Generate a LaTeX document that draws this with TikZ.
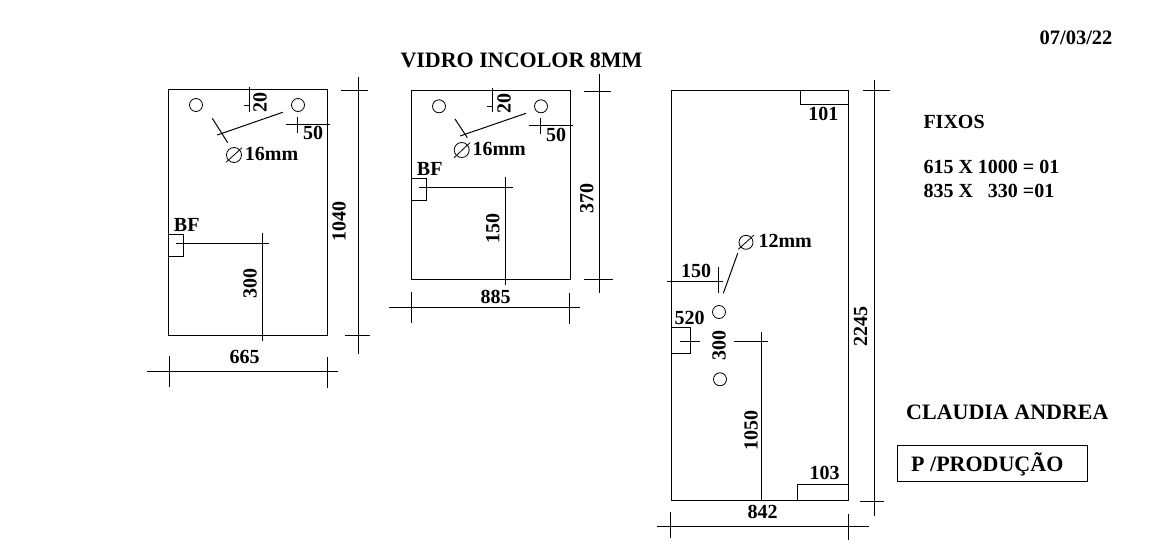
\documentclass[tikz,border=0pt]{standalone}
\usepackage{fontspec}
\setmainfont{Liberation Serif}
\tikzset{
  lbl/.style={inner sep=0pt,font=\fontsize{20}{22}\selectfont\bfseries,text=black},
  big/.style={lbl,font=\fontsize{22}{24}\selectfont\bfseries},
  vert/.style={lbl,rotate=90},
  ln/.style={draw=black,line width=1pt},
  hole/.style={draw=black,line width=0.8pt}
}
\begin{document}
\begin{tikzpicture}[x=1pt,y=-1pt]
\useasboundingbox (0,0) rectangle (1166,543);
\fill[white] (0,0) rectangle (1166,543);

% header
\node[big] (title) at (521.5,60) {VIDRO INCOLOR 8MM};
\node[lbl,font=\fontsize{20.5}{22}\selectfont\bfseries] (date) at (1076,37.7) {07/03/22};

% panel 1
\draw[ln] (168.3,89.3) rectangle (327.3,335.3);
\draw[hole] (196,105) circle (6.5);
\draw[hole] (298,105) circle (6.5);
\draw[ln] (249.3,87.3) -- (249.3,111.7) (244,105) -- (249.3,105);
\node[vert] (a20) at (260,102) {20};
\draw[ln] (217.3,135) -- (282.7,112.3) (212.3,118.3) -- (227.7,142.7);
\draw[ln] (286,124) -- (330,124) (297.3,117) -- (297.3,133.3);
\node[lbl] (a50) at (313,133.3) {50};
\draw[hole] (234,155) circle (7.5);
\draw[hole] (226,162.3) -- (242,147.7);
\node[lbl,anchor=west] (a16) at (244.7,154.3) {16mm};
\node[lbl] (abf) at (186.7,225) {BF};
\draw[ln] (168.3,234.3) rectangle (183.3,256.3);
\draw[ln] (176,243.3) -- (269.3,243.3) (262.3,233) -- (262.3,340.7);
\node[vert] (a300) at (250,283.3) {300};
\node[vert] (a1040) at (339,221.7) {1040};
\draw[ln] (358.7,77.3) -- (358.7,353.7) (341,90.3) -- (368.3,90.3) (345,335.3) -- (370,335.3);
\node[lbl] (a665) at (244.7,356.7) {665};
\draw[ln] (147.3,371.3) -- (337.7,371.3) (169.3,356) -- (169.3,386.7) (327.3,357.3) -- (327.3,387.7);

% panel 2
\draw[ln] (411.3,90.7) rectangle (570.7,279);
\draw[hole] (439,106.3) circle (6.5);
\draw[hole] (541,106.3) circle (6.5);
\draw[ln] (492.7,88.3) -- (492.7,112.3) (487.3,106.3) -- (492.7,106.3);
\node[vert] (b20) at (504,103.7) {20};
\draw[ln] (460,136) -- (526,113.3) (455,119) -- (467.3,137.7);
\draw[ln] (529,125.3) -- (573,125.3) (540.7,118) -- (540.7,134.3);
\node[lbl] (b50) at (556,135) {50};
\draw[hole] (461.7,150) circle (7.5);
\draw[hole] (454,157.7) -- (470,142.7);
\node[lbl,anchor=west] (b16) at (472.3,149) {16mm};
\node[lbl] (bbf) at (429.7,169.3) {BF};
\draw[ln] (411.3,178.3) rectangle (426.7,200.3);
\draw[ln] (419,187) -- (513,187) (505.3,177) -- (505.3,285);
\node[vert] (b150) at (492.7,228.3) {150};
\node[vert] (b370) at (586.7,198.3) {370};
\draw[ln] (599.3,74) -- (599.3,292.7) (584,91.3) -- (611,91.3) (584,279.7) -- (612.7,279.7);
\node[lbl] (b885) at (495.7,296.7) {885};
\draw[ln] (389,307) -- (580,307) (411.3,292) -- (411.3,322.7) (569.3,293.3) -- (569.3,323.7);

% panel 3
\draw[ln] (671.3,90.3) rectangle (848.3,500.3);
\draw[ln] (800.3,90.3) |- (848.3,104.3);
\node[lbl] (c101) at (823.3,113.7) {101};
\draw[ln] (874.3,80) -- (874.3,515.7) (863,90.3) -- (890,90.3) (860.3,501.3) -- (884,501.3);
\node[vert] (c2245) at (860.7,326.7) {2245};
\draw[hole] (746,242.3) circle (7);
\draw[hole] (738.3,249.3) -- (754,235);
\node[lbl,anchor=west] (c12) at (758.3,240.7) {12mm};
\draw[ln] (723.3,293.3) -- (737.7,253.3);
\node[lbl] (c150) at (696,270.7) {150};
\draw[ln] (667.3,281.3) -- (723.3,281.3) (718.3,267) -- (718.3,292.7);
\draw[hole] (719,312) circle (6.5);
\draw[hole] (720,379.3) circle (6.5);
\node[lbl] (c520) at (689.7,318) {520};
\draw[ln] (671.3,327.3) -| (690.3,353.3) -- (671.3,353.3);
\draw[ln] (680,341.3) -- (700,341.3);
\node[vert] (c300) at (719,345.7) {300};
\draw[ln] (734.3,341.3) -- (767.7,341.3) (761.3,332.3) -- (761.3,500.3);
\node[vert] (c1050) at (751,430) {1050};
\draw[ln] (797.3,500.3) |- (848.3,484.3);
\node[lbl] (c103) at (824.7,473) {103};
\node[lbl] (c842) at (762.7,512) {842};
\draw[ln] (657.3,526.3) -- (869,526.3) (670.3,512.3) -- (670.3,537.7) (848.3,514) -- (848.3,540);

% notes
\node[lbl,anchor=west] (fixos) at (923.3,121.7) {FIXOS};
\node[lbl,anchor=west] (n1) at (923.3,167.3) {615 X 1000 = 01};
\node[lbl,anchor=west] (n2) at (923.3,190.7) {835 X\ \ \ 330 =01};
\node[big,anchor=west] (client) at (906,412) {CLAUDIA ANDREA};
\draw[ln] (897,445) rectangle (1087,481);
\node[big,anchor=west] (prod) at (911,464) {P /PRODUÇÃO};
\end{tikzpicture}
\end{document}
